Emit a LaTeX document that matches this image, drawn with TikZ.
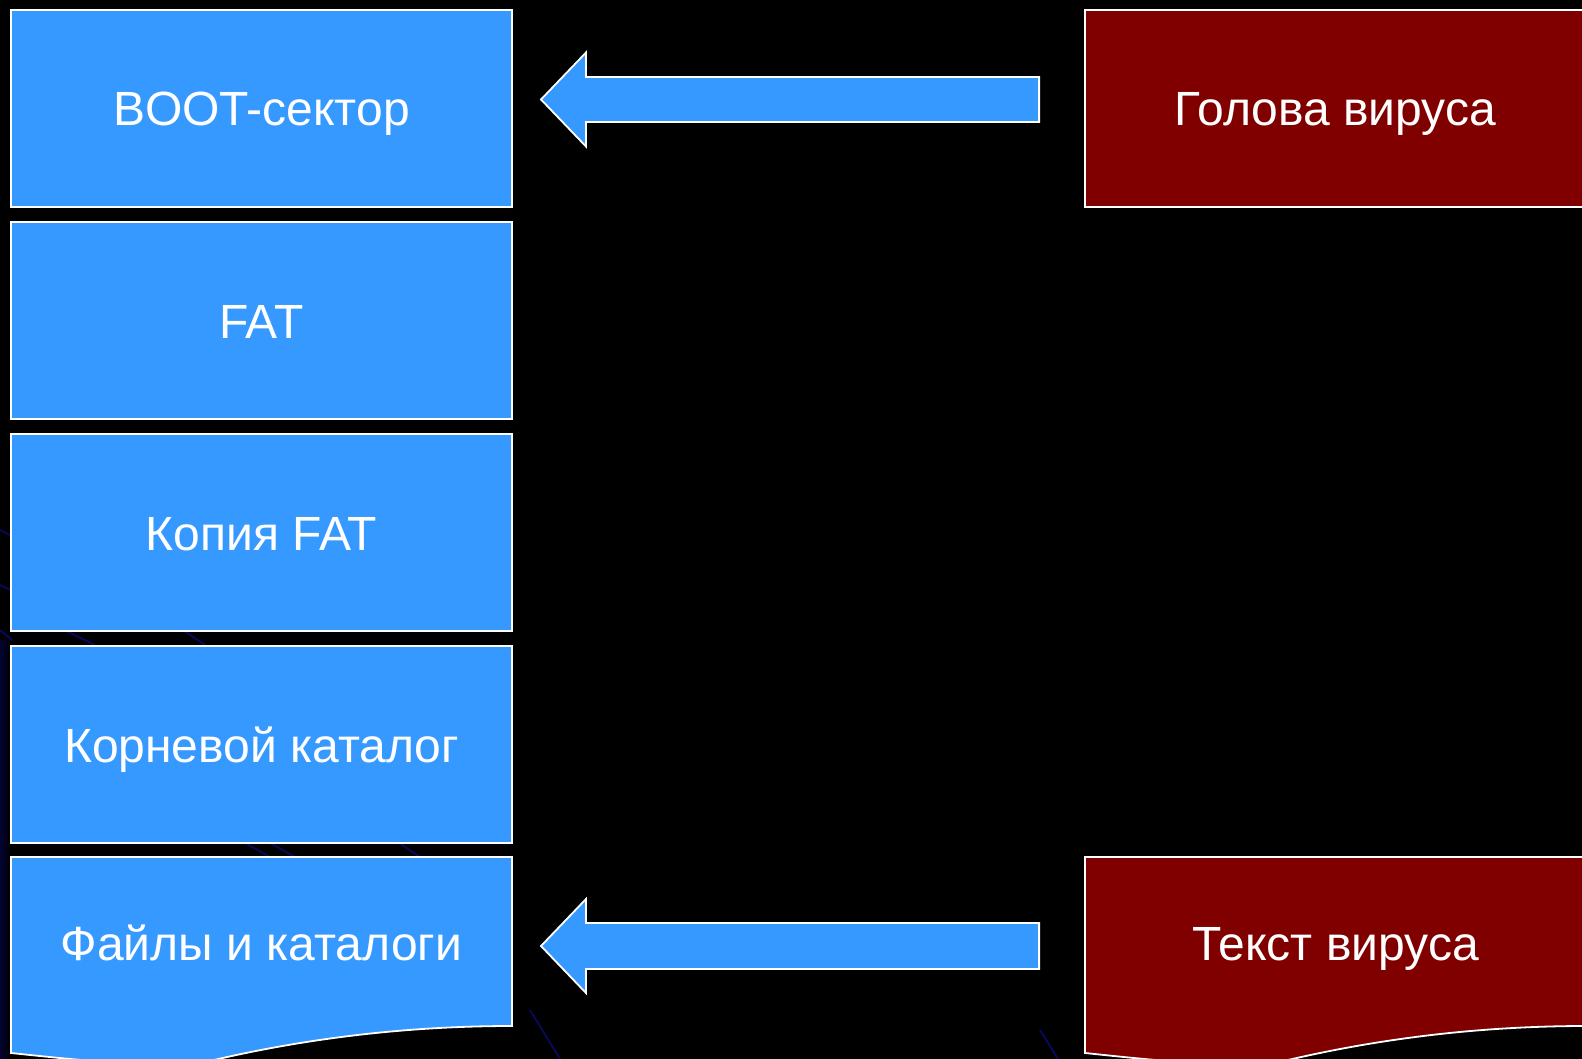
\documentclass[tikz,border=0pt]{standalone}
\usepackage{fontspec}
\setmainfont{Liberation Sans}
\definecolor{boxblue}{RGB}{54,153,255}
\definecolor{virred}{RGB}{128,0,0}
\definecolor{bgline}{RGB}{10,10,110}
\begin{document}
\begin{tikzpicture}[x=1pt,y=-1pt,
  lbl/.style={text=white,font=\fontsize{48}{56}\selectfont,text height=35pt,text depth=0pt},
  blk/.style={lbl,draw=white,line width=1.8pt,minimum width=501pt,minimum height=197pt,inner sep=0pt},
  bluebox/.style={blk,fill=boxblue},
  redbox/.style={blk,fill=virred},
  blockarrow/.style={fill=boxblue,draw=white,line width=1.8pt,line join=miter}]
\useasboundingbox (0,0) rectangle (1582,1059);
\clip (0,0) rectangle (1582,1059);
\fill[black] (0,0) rectangle (1582,1059);
% faint background lines of the slide template
\begin{scope}[bgline,line width=2pt,opacity=0.8]
  \draw (0,530) -- (30,545);
  \draw (0,585) -- (30,600);
  \draw (60,628) -- (95,645);
  \draw (180,628) -- (205,645);
  \draw (240,840) -- (270,857);
  \draw (265,840) -- (295,857);
  \draw (395,840) -- (420,857);
  \draw (1040,1030) -- (1058,1059);
  \draw (530,1010) -- (560,1059);
  \draw (0,630) -- (12,640);
\end{scope}
\shade[left color=bgline!80!black,right color=black,opacity=0.6] (0,640) rectangle (10,1059);
% left column
\node[bluebox] (boot) at (261.5,108.5) {BOOT-сектор};
\node[bluebox] (fat) at (261.5,320.5) {FAT};
\node[bluebox] (fatcopy) at (261.5,532.5) {Копия FAT};
\node[bluebox] (root) at (261.5,744.5) {Корневой каталог};
\filldraw[fill=boxblue,draw=white,line width=1.8pt]
  (11,1053) -- (11,857) -- (512,857) -- (512,1026)
  .. controls (400,1026) and (300,1040) .. (214,1060)
  .. controls (160,1070) and (60,1058) .. (11,1053) -- cycle;
\node[lbl] (files) at (261.5,943) {Файлы и каталоги};
% right column
\node[redbox] (head) at (1335.5,108.5) {Голова вируса};
\filldraw[fill=virred,draw=white,line width=1.8pt]
  (1085,1053) -- (1085,857) -- (1586,857) -- (1586,1026)
  .. controls (1474,1026) and (1374,1040) .. (1288,1060)
  .. controls (1234,1070) and (1134,1058) .. (1085,1053) -- cycle;
\node[lbl] (body) at (1335.5,943) {Текст вируса};
% block arrows
\coordinate (a1tip) at (541,99.5);
\coordinate (a1tail) at ([xshift=-45pt]head.west |- a1tip);
\draw[blockarrow] (a1tip) -- ++(45,-47) -- ++(0,24.5) -- (a1tail |- 0,77) -- (a1tail |- 0,122) -- (586,122) -- ++(0,24.5) -- cycle;
\coordinate (a2tip) at (541,946);
\coordinate (a2tail) at ([xshift=-45pt]head.west |- a2tip);
\draw[blockarrow] (a2tip) -- ++(45,-47) -- ++(0,24) -- (a2tail |- 0,923) -- (a2tail |- 0,969) -- (586,969) -- ++(0,24) -- cycle;
\end{tikzpicture}
\end{document}
